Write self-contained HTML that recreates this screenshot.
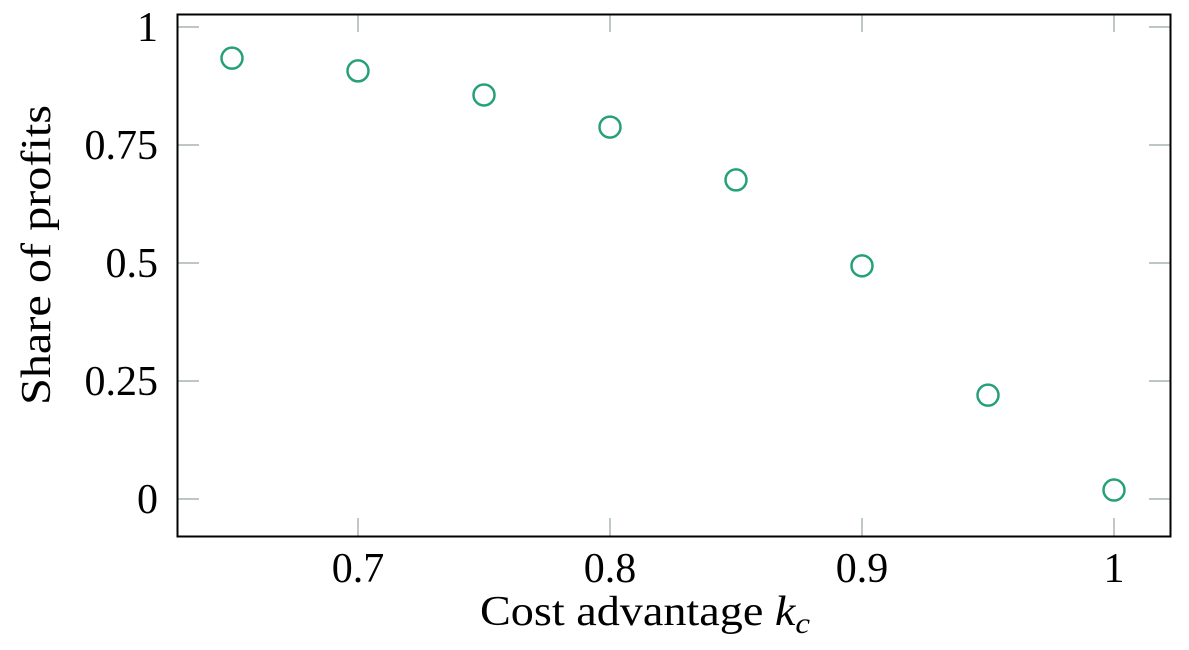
<!DOCTYPE html>
<html><head><meta charset="utf-8"><style>
html,body{margin:0;padding:0;background:#fff;}
svg text{font-family:"Liberation Serif",serif;fill:#000;}
</style></head><body>
<svg width="1189" height="645" xmlns="http://www.w3.org/2000/svg">
<g id="ticks"></g>
<g id="marks"></g>
<rect x="177.5" y="14.5" width="993" height="522" fill="none" stroke="#000" stroke-width="2"/>
<text x="480" y="625" font-size="42" textLength="330" lengthAdjust="spacingAndGlyphs">Cost advantage <tspan font-style="italic">k</tspan><tspan font-style="italic" font-size="30" dy="8">c</tspan></text>
<text transform="translate(50,255) rotate(-90)" font-size="42" text-anchor="middle" textLength="300" lengthAdjust="spacingAndGlyphs">Share of profits</text>
</svg>
<script>
const xValues=[0.65,0.7,0.75,0.8,0.85,0.9,0.95,1.0];
const yValues=[0.934,0.907,0.856,0.788,0.676,0.494,0.220,0.019];
const xTicks=[0.7,0.8,0.9,1];
const xTickLabels=["0.7","0.8","0.9","1"];
const yTicks=[0,0.25,0.5,0.75,1];
const yTickLabels=["0","0.25","0.5","0.75","1"];
const NS="http://www.w3.org/2000/svg";
const L=177,R=1171,T=14,B=536;
function xs(v){return 358+(v-0.7)*2520;}
function ys(v){return 499-v*472;}
const tg=document.getElementById('ticks'),mg=document.getElementById('marks');
function mk(tag,attrs,parent){const e=document.createElementNS(NS,tag);for(const k in attrs)e.setAttribute(k,attrs[k]);parent.appendChild(e);return e;}
xTicks.forEach((v,i)=>{
  const x=xs(v);
  let a=mk('line',{x1:x,x2:x,y1:B,y2:B-18,stroke:'#aab4b4','stroke-width':1.5},tg);
  
  
  let b=mk('line',{x1:x,x2:x,y1:T,y2:T+18,stroke:'#aab4b4','stroke-width':1.5},tg);
  
  
  let t=mk('text',{x:x,y:582,'font-size':42,'text-anchor':'middle'},tg);
  t.textContent=xTickLabels[i];
  
  
});
yTicks.forEach((v,i)=>{
  const y=ys(v);
  let a=mk('line',{x1:L,x2:L+22,y1:y,y2:y,stroke:'#aab4b4','stroke-width':1.5},tg);
  
  
  let b=mk('line',{x1:R,x2:R-22,y1:y,y2:y,stroke:'#aab4b4','stroke-width':1.5},tg);
  
  
  let t=mk('text',{x:158,y:y+14,'font-size':42,'text-anchor':'end'},tg);
  t.textContent=yTickLabels[i];
  
  
});
xValues.forEach((v,i)=>{
  let c=mk('circle',{cx:xs(v),cy:ys(yValues[i]),r:10.5,fill:'none',stroke:'#26a07a','stroke-width':2.5},mg);
  
  
});
</script>
</body></html>
